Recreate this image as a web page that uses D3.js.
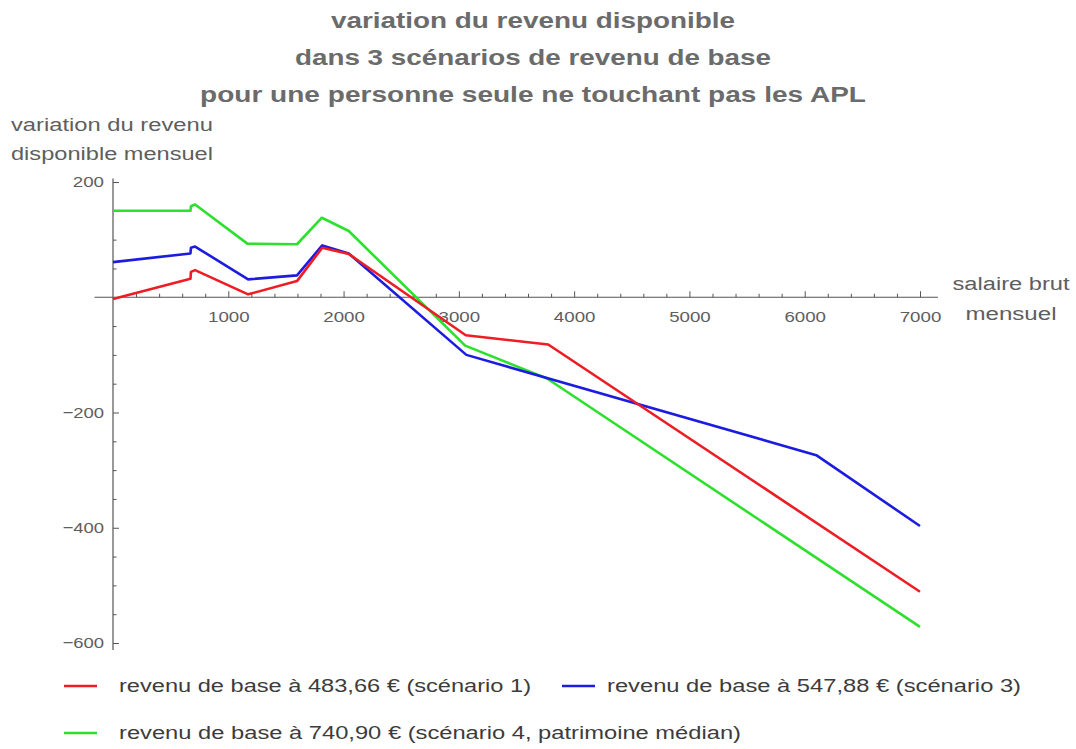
<!DOCTYPE html>
<html lang="fr">
<head>
<meta charset="utf-8">
<script src="https://cdn.jsdelivr.net/npm/d3@7"></script>
<style>
  html, body { margin: 0; padding: 0; background: #fff; }
  svg { display: block; font-family: "Liberation Sans", Arial, Helvetica, sans-serif; }
</style>
</head>
<body>
<svg id="chart" width="1076" height="749"></svg>
<script>
// Salaire brut mensuel (€) at each break point of the piecewise curves
const salaireS1 = [0, 672, 676, 712, 1172, 1596, 1815, 2045, 3060, 3775, 7000];
const salaireS3 = [0, 672, 676, 712, 1172, 1596, 1815, 2045, 3065, 6100, 7000];
const salaireS4 = [0, 672, 676, 712, 1165, 1596, 1812, 2045, 3055, 3765, 7000];

// Variation du revenu disponible mensuel (€)
const variationS1 = [-3, 32, 44, 47, 5, 28, 86, 75, -66, -82, -511];
const variationS3 = [61, 76, 86, 88, 31, 38, 90, 76, -100, -274, -397];
const variationS4 = [150, 150, 158, 161, 93, 92, 138, 115, -84, -141, -572];

const seriesNames = [
  "revenu de base à 483,66 € (scénario 1)",
  "revenu de base à 547,88 € (scénario 3)",
  "revenu de base à 740,90 € (scénario 4, patrimoine médian)"
];
const seriesColors = ["#ee1c24", "#1c1ce0", "#2ee02e"];

const xMajorTicks = [1000, 2000, 3000, 4000, 5000, 6000, 7000];
const yMajorTicks = [-600, -400, -200, 200];

const titleLines = [
  "variation du revenu disponible",
  "dans 3 scénarios de revenu de base",
  "pour une personne seule ne touchant pas les APL"
];
const yLabelLines = ["variation du revenu", "disponible mensuel"];
const xLabelLines = ["salaire brut", "mensuel"];

const svg = d3.select("#chart");

const x = d3.scaleLinear().domain([0, 7000]).range([113, 920]);
const y = d3.scaleLinear().domain([-600, 200]).range([643, 182]);

const axisColor = "#555";
const textColor = "#5e5e5e";

// Minor ticks every 200 on x, every 50 on y
const xMinor = d3.range(200, 7001, 200).filter(v => v % 1000 !== 0);
const yMinor = d3.range(-600, 201, 50).filter(v => v % 200 !== 0 && v !== 0);

// Tick labels are drawn slightly wide
const tickText = sel => sel
  .attr("fill", textColor).attr("font-size", 15.5)
  .attr("font-family", "Liberation Sans, Arial, sans-serif")
  .attr("lengthAdjust", "spacingAndGlyphs")
  .attr("textLength", function () { return this.textContent.length * 10.4; });

// X axis: ticks pointing up, labels below
const gx = svg.append("g").attr("transform", `translate(0,${y(0)})`);
gx.append("line")
  .attr("x1", x(-160)).attr("x2", x(7155))
  .attr("stroke", axisColor).attr("stroke-width", 1.2);
gx.call(g => g.append("g").call(
  d3.axisBottom(x).tickValues(xMinor).tickSize(-3.5).tickFormat("")
));
gx.call(g => g.append("g").call(
  d3.axisBottom(x).tickValues(xMajorTicks).tickSize(-6).tickPadding(14)
    .tickFormat(d3.format("d"))
));
gx.selectAll(".domain").remove();
gx.selectAll(".tick line").attr("stroke", axisColor);
gx.selectAll(".tick text").call(tickText);

// Y axis: ticks pointing right, labels to the left
const gy = svg.append("g").attr("transform", `translate(${x(0)},0)`);
gy.append("line")
  .attr("y1", y(-612)).attr("y2", y(206))
  .attr("stroke", axisColor).attr("stroke-width", 1.2);
gy.call(g => g.append("g").call(
  d3.axisLeft(y).tickValues(yMinor).tickSize(-3.5).tickFormat("")
));
gy.call(g => g.append("g").call(
  d3.axisLeft(y).tickValues(yMajorTicks).tickSize(-6).tickPadding(9)
    .tickFormat(d3.format("d"))
));
gy.selectAll(".domain").remove();
gy.selectAll(".tick line").attr("stroke", axisColor);
gy.selectAll(".tick text").call(tickText);

// Curves
const series = [
  { xs: salaireS1, ys: variationS1 },
  { xs: salaireS3, ys: variationS3 },
  { xs: salaireS4, ys: variationS4 }
];
const line = d3.line().x(d => x(d[0])).y(d => y(d[1]));
// draw green first, then blue, then red so the lower scenarios sit on top where they touch
[2, 1, 0].forEach(i => {
  const pts = series[i].xs.map((s, k) => [s, series[i].ys[k]]);
  svg.append("path")
    .datum(pts)
    .attr("d", line)
    .attr("fill", "none")
    .attr("stroke", seriesColors[i])
    .attr("stroke-width", 2.6)
    .attr("stroke-linejoin", "round");
});

// Title
const titleBaselines = [28, 65, 102];
const titleWidths = [404, 476, 666];
titleLines.forEach((t, i) => {
  svg.append("text")
    .attr("x", 533).attr("y", titleBaselines[i])
    .attr("text-anchor", "middle")
    .attr("font-size", 22).attr("font-weight", "bold")
    .attr("fill", "#6b6b6b")
    .attr("textLength", titleWidths[i])
    .attr("lengthAdjust", "spacingAndGlyphs")
    .text(t);
});

// Axis labels
yLabelLines.forEach((t, i) => {
  svg.append("text")
    .attr("x", 11).attr("y", [131, 160][i])
    .attr("font-size", 17.5).attr("fill", textColor)
    .attr("textLength", 202).attr("lengthAdjust", "spacingAndGlyphs")
    .text(t);
});
const xLabelWidths = [117, 91];
xLabelLines.forEach((t, i) => {
  svg.append("text")
    .attr("x", 1011).attr("y", [290, 320][i])
    .attr("text-anchor", "middle")
    .attr("font-size", 18).attr("fill", textColor)
    .attr("textLength", xLabelWidths[i]).attr("lengthAdjust", "spacingAndGlyphs")
    .text(t);
});

// Legend
const legendItems = [
  { i: 0, lx: 64, tx: 119, y: 686, w: 412 },
  { i: 1, lx: 562, tx: 607, y: 686, w: 414 },
  { i: 2, lx: 64, tx: 119, y: 733, w: 622 }
];
legendItems.forEach(d => {
  svg.append("line")
    .attr("x1", d.lx).attr("x2", d.lx + 33)
    .attr("y1", d.y).attr("y2", d.y)
    .attr("stroke", seriesColors[d.i]).attr("stroke-width", 2.6);
  svg.append("text")
    .attr("x", d.tx).attr("y", d.y + 6)
    .attr("font-size", 17.5).attr("fill", "#3c3c3c")
    .attr("textLength", d.w).attr("lengthAdjust", "spacingAndGlyphs")
    .text(seriesNames[d.i]);
});
</script>
</body>
</html>
